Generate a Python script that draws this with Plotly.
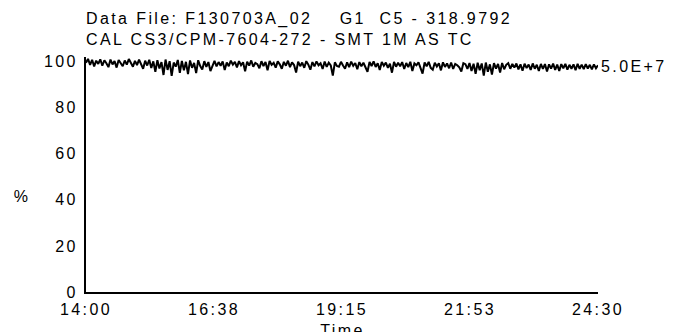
import numpy as np
import plotly.graph_objects as go

title_line1 = "Data File: F130703A_02    G1  C5 - 318.9792"
title_line2 = "CAL CS3/CPM-7604-272 - SMT 1M AS TC"
end_label = "5.0E+7"

x_tick_vals = [840, 997.5, 1155, 1312.5, 1470]
x_tick_text = ["14:00", "16:38", "19:15", "21:53", "24:30"]
y_tick_vals = [0, 20, 40, 60, 80, 100]

seg_a = [99.5, 101.2, 98.6, 100.8, 97.9, 100.4, 99.0, 101.0, 98.2, 100.6, 99.3, 97.6, 100.9, 98.8, 100.2,
         97.4, 100.7, 99.1, 98.0, 100.5, 98.7, 101.1, 99.4, 97.8, 100.3, 98.5, 100.9, 99.2, 96.9, 100.4,
         98.3, 100.8, 97.2, 100.1, 95.6, 100.6, 97.0, 99.8, 94.2, 100.9, 96.4, 100.2, 93.8, 99.6, 97.8,
         100.7, 95.1, 100.3, 96.2, 99.9, 94.6, 100.5, 97.3, 99.4, 95.0, 100.6, 98.1, 96.6, 100.2, 97.7,
         99.8, 95.9]
seg_b = [98.6, 100.3, 97.9, 99.8, 98.2, 100.1, 96.4, 99.6, 98.0, 100.4, 98.7, 99.9, 97.5, 100.2, 98.4,
         99.7, 95.8, 100.0, 98.3, 100.5, 97.8, 99.4, 98.9, 97.1, 100.2, 98.1, 99.8, 96.2, 100.3, 98.6,
         99.5, 97.4, 100.1, 98.8, 96.9, 99.9, 98.2, 100.4, 97.6, 99.7, 98.5, 95.3, 100.0, 98.0, 99.6,
         97.3, 100.2, 98.7, 96.5, 99.8, 97.9, 100.1, 98.4, 99.3, 96.8, 100.0, 97.7, 99.5, 98.3, 93.9,
         99.7, 98.1]
seg_c = [97.8, 99.9, 98.3, 96.9, 99.7, 97.6, 100.0, 98.2, 99.4, 96.7, 99.8, 98.0, 99.5, 97.4, 95.6,
         99.9, 98.1, 100.1, 97.7, 99.3, 96.4, 99.8, 98.2, 99.6, 97.3, 99.1, 95.2, 99.9, 97.8, 99.5,
         98.0, 99.8, 96.8, 99.4, 97.6, 99.9, 95.9, 99.2, 98.4, 99.7, 97.5, 94.8, 99.6, 98.0, 99.9,
         97.3, 96.5, 99.5, 97.9, 99.3, 96.2, 99.7, 97.7, 99.2, 97.1, 99.6, 96.8, 99.0, 98.4, 97.5,
         95.7, 99.3]
seg_d = [98.9, 96.8, 99.4, 95.9, 99.1, 94.7, 99.5, 96.3, 99.2, 93.9, 99.6, 95.6, 98.8, 94.4, 99.3,
         97.0, 99.0, 95.3, 99.4, 96.7, 98.6, 99.3, 96.9, 99.0, 97.4, 99.2, 96.6, 98.8, 96.0, 99.1,
         97.2, 98.7, 96.4, 99.2, 96.9, 98.6, 95.9, 99.0, 96.8, 98.9, 95.7, 98.8, 97.0, 99.1, 96.4,
         98.7, 95.9, 98.9, 97.1, 99.0, 96.5, 98.6, 96.9, 98.8, 96.3, 99.0, 96.9, 98.7, 96.7, 98.9,
         97.0, 98.6, 96.6, 98.8, 97.1, 98.4]

percent = seg_a + seg_b + seg_c + seg_d
minutes = np.linspace(840, 1470, len(percent))

FONT = "Liberation Sans, Arial, sans-serif"
FS = 16

fig = go.Figure()
fig.add_trace(go.Scatter(x=minutes, y=percent, mode="lines",
                         line=dict(color="black", width=2), hoverinfo="skip"))

fig.update_layout(
    width=685, height=332,
    margin=dict(l=78, r=95, t=49, b=48),
    paper_bgcolor="white", plot_bgcolor="white",
    showlegend=False,
    font=dict(family=FONT, size=FS, color="black"),
)
fig.update_xaxes(range=[840, 1470], tickvals=x_tick_vals, ticktext=x_tick_text,
                 showgrid=False, zeroline=False, showline=True, linecolor="black",
                 linewidth=2, ticks="", ticklabelstandoff=2, automargin=False,
                 tickfont=dict(size=FS))
fig.update_yaxes(range=[0, 102], tickvals=y_tick_vals, showgrid=False, zeroline=False,
                 showline=True, linecolor="black", linewidth=2, ticks="",
                 ticklabelstandoff=3, automargin=False, tickfont=dict(size=FS))

fig.add_annotation(text=title_line1, xref="paper", yref="paper", x=0, y=1.0,
                   xanchor="left", yanchor="middle", align="left", xshift=-2, yshift=38,
                   showarrow=False, font=dict(size=FS))
fig.add_annotation(text=title_line2, xref="paper", yref="paper", x=0, y=1.0,
                   xanchor="left", yanchor="middle", align="left", xshift=-2, yshift=18,
                   showarrow=False, font=dict(size=FS))
fig.add_annotation(text=end_label, xref="x", yref="y", x=minutes[-1], y=percent[-1],
                   xanchor="left", yanchor="middle", align="left", xshift=1, yshift=-1,
                   showarrow=False, font=dict(size=FS))
fig.add_annotation(text="%", xref="paper", yref="paper", x=0, y=0.405, xanchor="center",
                   yanchor="middle", xshift=-64, showarrow=False, font=dict(size=FS))
fig.add_annotation(text="Time", xref="paper", yref="paper", x=0.5, y=0, xanchor="center",
                   yanchor="top", yshift=-28, showarrow=False, font=dict(size=FS))

spacing_js = """
document.querySelectorAll('.main-svg text').forEach(function (t) {
    t.style.letterSpacing = '2.4px';
});
"""

fig.write_html("out.html", post_script=spacing_js)
